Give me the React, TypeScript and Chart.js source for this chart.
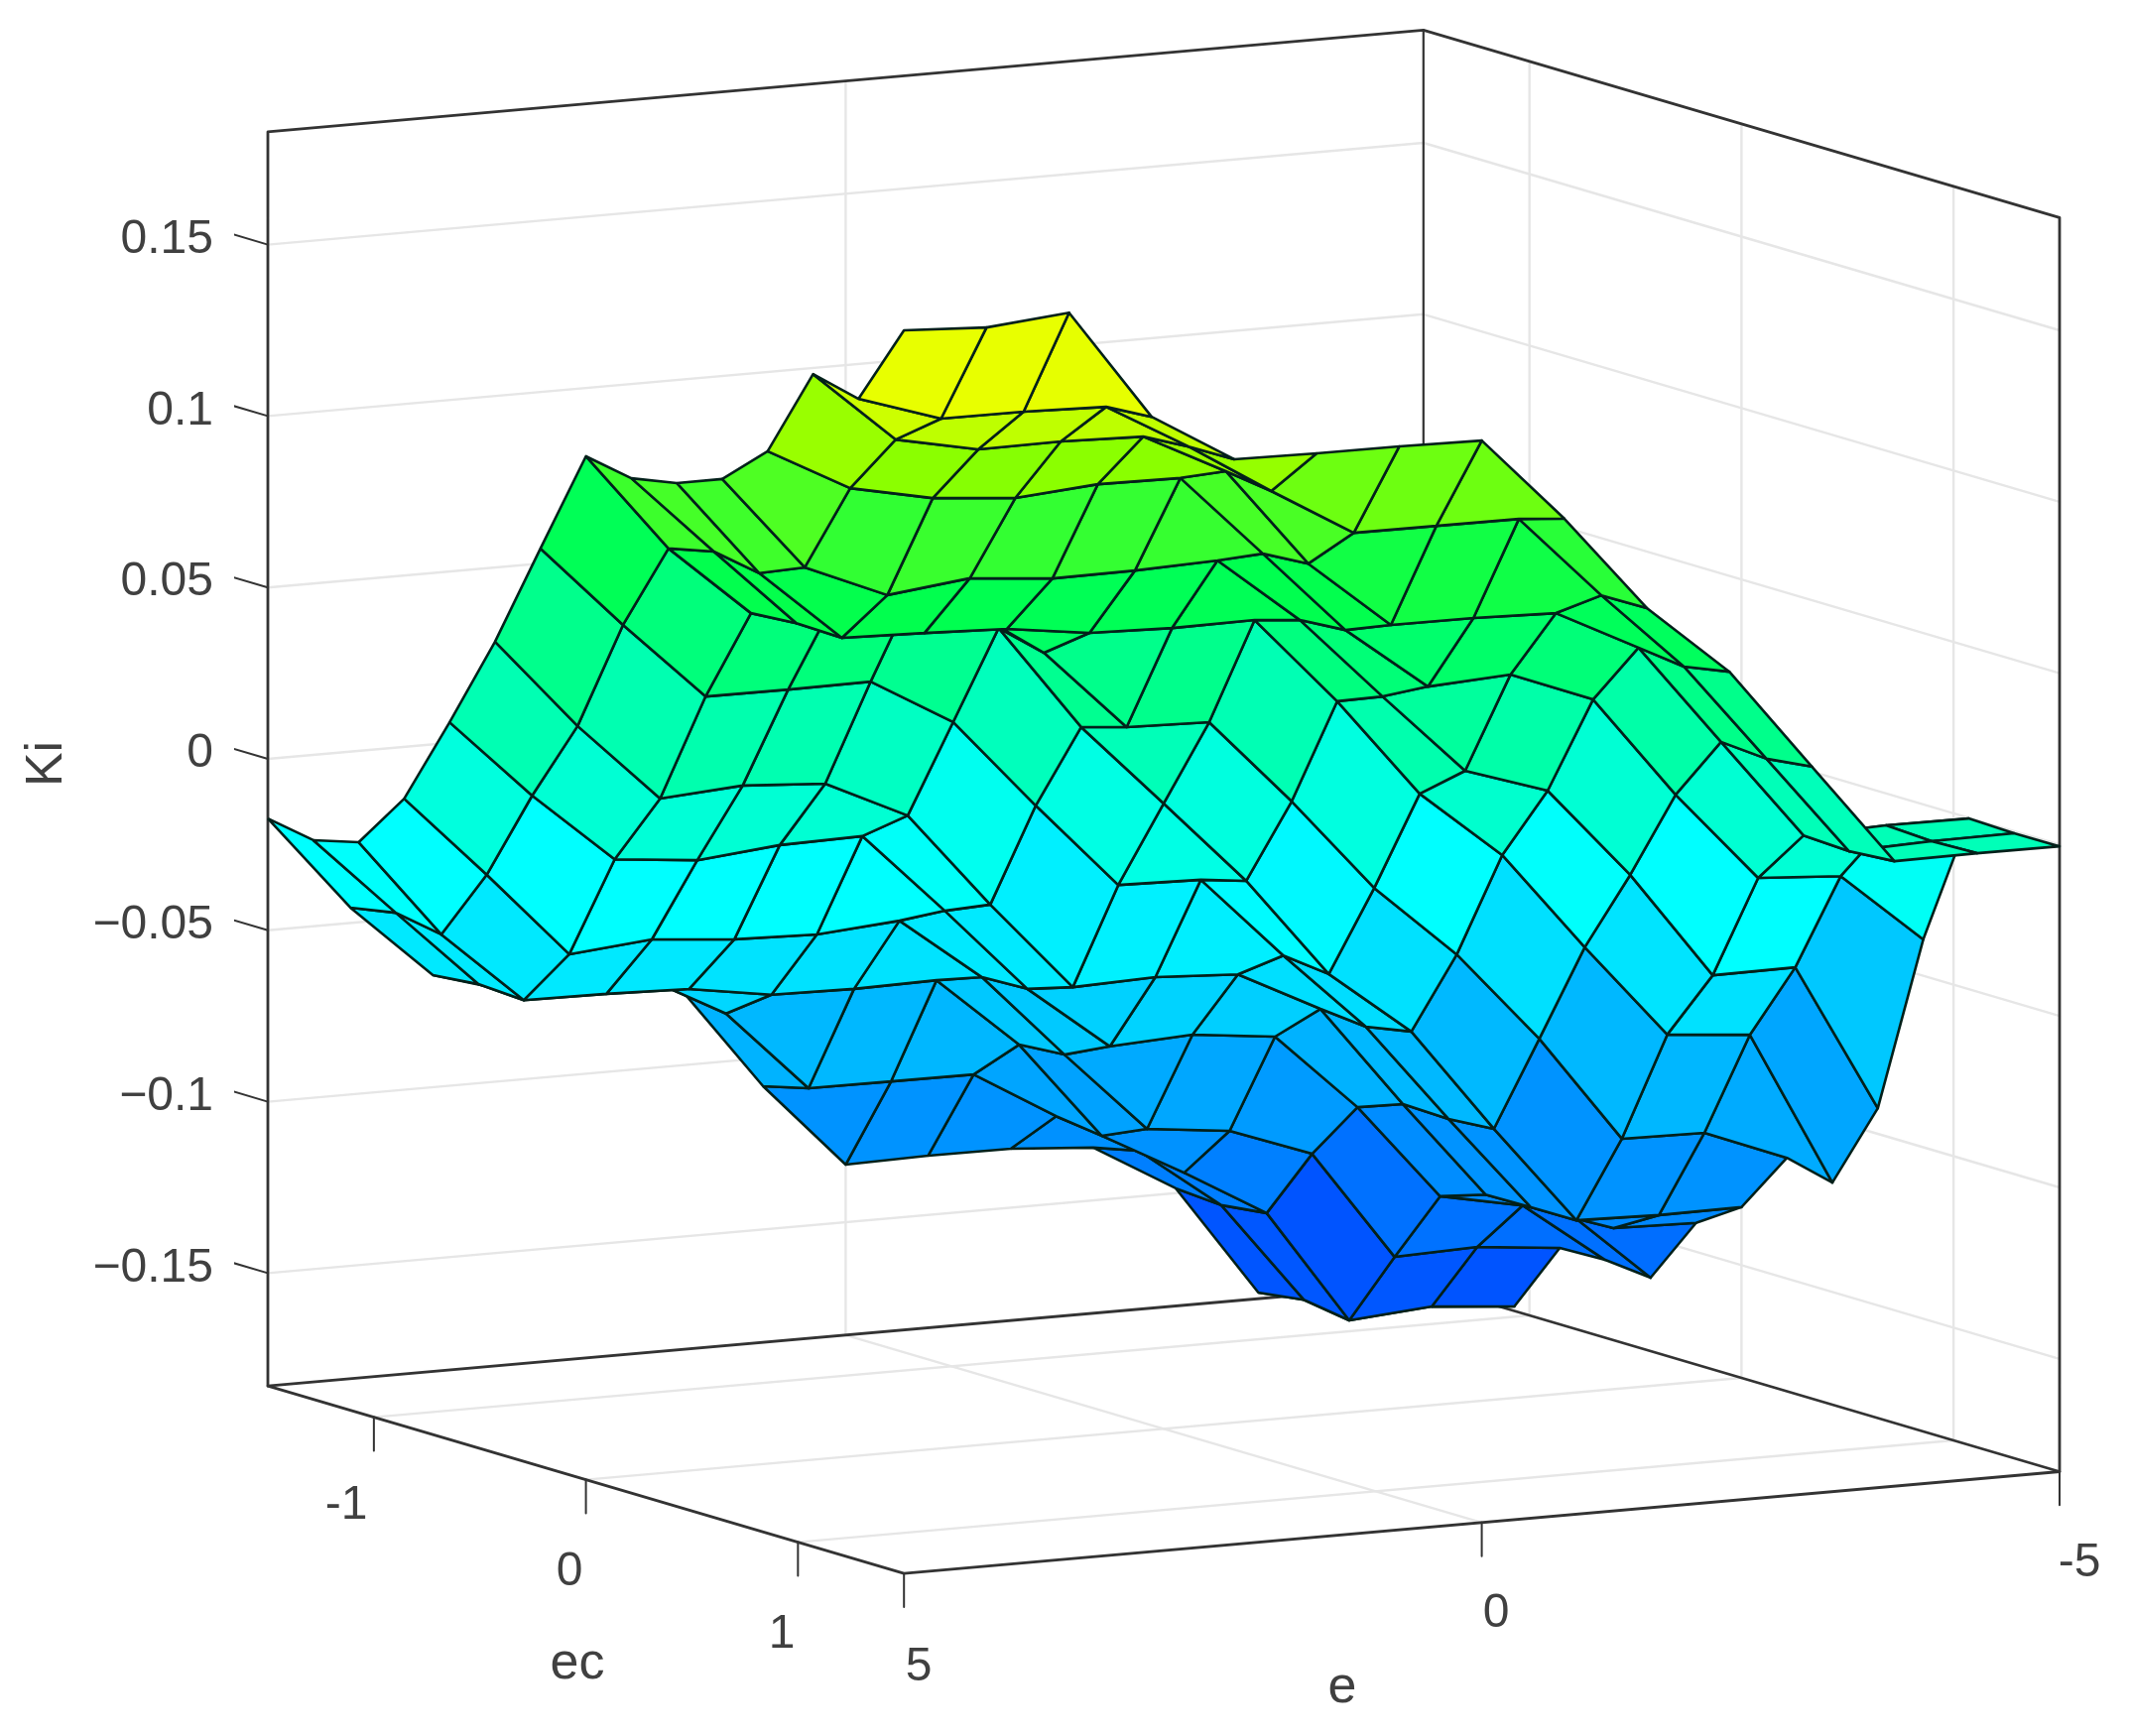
import React, { useEffect, useRef } from "react";
import { Chart, registerables } from "chart.js";

Chart.register(...registerables);

// Surface axes
const eValues = [5, 4.2857, 3.5714, 2.8571, 2.1429, 1.4286, 0.7143, 0, -0.7143, -1.4286, -2.1429, -2.8571, -3.5714, -4.2857, -5];
const ecValues = [-1.5, -1.2857, -1.0714, -0.8571, -0.6429, -0.4286, -0.2143, 0, 0.2143, 0.4286, 0.6429, 0.8571, 1.0714, 1.2857, 1.5];

// Ki at each e (row) and ec (column)
const kiE00 = [-0.0174, -0.0198, -0.0165, 0.0001, 0.0263, 0.0537, 0.0848, 0.1156, 0.1131, 0.1156, 0.1207, 0.1327, 0.1591, 0.1558, 0.1797];
const kiE01 = [-0.0455, -0.0431, -0.0455, -0.0242, 0.0028, 0.027, 0.0604, 0.0866, 0.0896, 0.0872, 0.0928, 0.1198, 0.1379, 0.1479, 0.1784];
const kiE02 = [-0.0673, -0.066, -0.0668, -0.0495, -0.0179, 0.0037, 0.0374, 0.0656, 0.0666, 0.0662, 0.0826, 0.1148, 0.1329, 0.1478, 0.1806];
const kiE03 = [-0.0744, -0.0661, -0.0671, -0.0473, -0.0203, 0.0054, 0.0373, 0.0664, 0.0726, 0.0655, 0.0854, 0.1127, 0.1331, 0.1471, 0.1481];
const kiE04 = [-0.0721, -0.0682, -0.0678, -0.0494, -0.018, 0.0038, 0.0375, 0.0695, 0.0676, 0.0646, 0.0832, 0.1146, 0.1324, 0.1334, 0.1336];
const kiE05 = [-0.0777, -0.081, -0.0716, -0.0501, -0.0175, -0.0076, 0.0236, 0.0549, 0.0516, 0.0613, 0.0834, 0.1143, 0.1202, 0.1183, 0.1332];
const kiE06 = [-0.1082, -0.1049, -0.072, -0.0482, -0.0414, -0.0357, -0.0029, 0.0239, 0.0278, 0.0606, 0.0842, 0.0901, 0.0911, 0.104, 0.1331];
const kiE07 = [-0.1332, -0.105, -0.0716, -0.0668, -0.0663, -0.0619, -0.0282, -0.0005, 0.0271, 0.0608, 0.0647, 0.0657, 0.0711, 0.1039, 0.1327];
const kiE08 = [-0.1327, -0.1051, -0.0925, -0.0915, -0.0852, -0.0611, -0.0288, -0.0252, 0.0019, 0.035, 0.0403, 0.0471, 0.071, 0.1038, 0.1078];
const kiE09 = [-0.1328, -0.1194, -0.1212, -0.1153, -0.0839, -0.0624, -0.053, -0.0545, -0.0255, 0.0059, 0.0165, 0.0485, 0.0703, 0.0794, 0.0796];
const kiE10 = [-0.1346, -0.1316, -0.1341, -0.118, -0.0866, -0.0746, -0.0759, -0.0734, -0.047, -0.0141, 0.0086, 0.0391, 0.0581, 0.0565, 0.0589];
const kiE11 = [-0.1486, -0.1496, -0.148, -0.1268, -0.1093, -0.1045, -0.1049, -0.1039, -0.0737, -0.0431, -0.0181, 0.0092, 0.0285, 0.0275, 0.0291];
const kiE12 = [-0.1811, -0.1793, -0.1814, -0.159, -0.1374, -0.133, -0.1328, -0.1327, -0.105, -0.0707, -0.0495, -0.0172, -0.0009, -0.0016, -0.0006];
const kiE13 = [-0.178, -0.177, -0.1795, -0.1582, -0.1422, -0.1403, -0.141, -0.1333, -0.1054, -0.0729, -0.0493, -0.0188, -0.0001, -0.0008, -0.0004];
const kiE14 = [-0.1758, -0.1777, -0.1816, -0.1606, -0.1602, -0.1615, -0.1416, -0.1331, -0.1148, -0.1181, -0.0925, -0.0394, -0.0002, -0.0006, -0.0005];
const kiSurface = [kiE00, kiE01, kiE02, kiE03, kiE04, kiE05, kiE06, kiE07, kiE08, kiE09, kiE10, kiE11, kiE12, kiE13, kiE14];

// Axis ticks and limits
const kiTicks = [-0.15, -0.1, -0.05, 0, 0.05, 0.1, 0.15];
const eTicks = [5, 0, -5];
const ecTicks = [-1, 0, 1];
const eLimits = [5, -5];
const ecLimits = [-1.5, 1.5];
const kiLimits = [-0.1829, 0.1829];

// Oblique view of the 3-D box, expressed on the chart's x scale (px) and y scale (Ki)
const project = (e: number, ec: number, ki: number) => ({
  x: 270 + (5 - e) * 116.48 + (ec + 1.5) * 213.73,
  y: ki + ((5 - e) * 10.26 - (ec + 1.5) * 63) / 3456,
});

const clamp = (v: number) => Math.max(0, Math.min(255, Math.round(v)));
const colour = (k: number) => {
  const r = (k - 0.065) * 2800;
  const g = 255 - (-0.05 - k) * 1300;
  const b = 255 - (k + 0.045) * 1600;
  return `rgb(${clamp(r)},${clamp(Math.min(g, 255))},${clamp(Math.min(b, 255))})`;
};

const line = (pts: number[][], color: string, width: number) => ({
  data: pts.map(([e, ec, k]) => project(e, ec, k)),
  showLine: true,
  fill: false,
  borderColor: color,
  borderWidth: width,
  pointRadius: 0,
  borderCapStyle: "round" as const,
  borderJoinStyle: "round" as const,
});

function buildDatasets() {
  const out: any[] = [];
  // Chart.js paints the first dataset last, so nearest cells come first
  for (let i = 0; i < eValues.length - 1; i++) {
    for (let j = ecValues.length - 2; j >= 0; j--) {
      const corners = [
        [i, j],
        [i + 1, j],
        [i + 1, j + 1],
        [i, j + 1],
        [i, j],
      ];
      // flat faces take the value of their lowest (e, ec) corner
      const faceValue = kiSurface[i + 1][j];
      out.push({
        data: corners.map(([a, b]) => project(eValues[a], ecValues[b], kiSurface[a][b])),
        showLine: true,
        fill: "shape",
        backgroundColor: colour(faceValue),
        borderColor: "#03201a",
        borderWidth: 2.6,
        borderJoinStyle: "round",
        pointRadius: 0,
      });
    }
  }
  const [e0, e1] = eLimits;
  const [c0, c1] = ecLimits;
  const [k0, k1] = kiLimits;
  const dark = "#333333";
  const tickLen = 0.0098;

  // box
  out.push(line([[e0, c0, k1], [e0, c0, k0], [e0, c1, k0], [e1, c1, k0], [e1, c1, k1], [e1, c0, k1], [e0, c0, k1]], dark, 2.8));
  out.push(line([[e0, c0, k0], [e1, c0, k0], [e1, c1, k0]], dark, 2.8));
  out.push(line([[e1, c0, k0], [e1, c0, k1]], dark, 2.2));

  // tick marks
  kiTicks.forEach((k) => out.push(line([[e0, c0, k], [e0, c0 - 0.16, k]], dark, 2)));
  ecTicks.forEach((c) => out.push(line([[e0, c, k0], [e0, c, k0 - tickLen]], dark, 2)));
  eTicks.forEach((e) => out.push(line([[e, c1, k0], [e, c1, k0 - tickLen]], dark, 2)));

  // grid on the walls and the floor
  const grid = "#e6e6e6";
  kiTicks.forEach((k) => out.push(line([[e0, c0, k], [e1, c0, k], [e1, c1, k]], grid, 2.4)));
  out.push(line([[0, c0, k0], [0, c0, k1]], grid, 2.4));
  out.push(line([[0, c0, k0], [0, c1, k0]], grid, 2.4));
  ecTicks.forEach((c) => {
    out.push(line([[e1, c, k0], [e1, c, k1]], grid, 2.4));
    out.push(line([[e0, c, k0], [e1, c, k0]], grid, 2.4));
  });
  return out;
}

const FONT = '"Liberation Sans", Arial, sans-serif';
const textColor = "#404040";
const ecLabels = ["-1", "0", "1"];
const eLabels = ["5", "0", "-5"];
const ecLabelAt = [[349, 1518], [574, 1585], [788, 1648]];
const eLabelAt = [[926, 1681], [1508, 1627], [2096, 1576]];

const textPlugin = {
  id: "axisText",
  afterDraw(chart: any) {
    const ctx = chart.ctx;
    ctx.save();
    ctx.fillStyle = textColor;
    ctx.font = `48px ${FONT}`;
    ctx.textAlign = "center";
    ctx.textBaseline = "middle";
    ecLabels.forEach((t, n) => ctx.fillText(t, ecLabelAt[n][0], ecLabelAt[n][1]));
    eLabels.forEach((t, n) => ctx.fillText(t, eLabelAt[n][0], eLabelAt[n][1]));
    ctx.font = `52px ${FONT}`;
    ctx.fillText("ec", 582, 1678);
    ctx.fillText("e", 1353, 1702);
    ctx.translate(48, 770);
    ctx.rotate(-Math.PI / 2);
    ctx.fillText("Ki", 0, 0);
    ctx.restore();
  },
};

export default function App() {
  const ref = useRef<HTMLCanvasElement>(null);
  useEffect(() => {
    if (!ref.current) return;
    const chart = new Chart(ref.current, {
      type: "scatter",
      data: { datasets: buildDatasets() },
      plugins: [textPlugin],
      options: {
        animation: false,
        responsive: false,
        devicePixelRatio: 1,
        layout: { padding: 0 },
        plugins: { legend: { display: false }, tooltip: { enabled: false }, title: { display: false } },
        scales: {
          x: { type: "linear", display: false, min: 236, max: 2147 },
          y: {
            type: "linear",
            position: "left",
            min: (765 - 1750) / 3456,
            max: 765 / 3456,
            grid: { display: false, drawTicks: false },
            border: { display: false },
            afterFit: (s: any) => {
              s.width = 236;
              s.paddingTop = 0;
              s.paddingBottom = 0;
            },
            afterBuildTicks: (s: any) => {
              s.ticks = kiTicks.map((value) => ({ value }));
            },
            ticks: {
              autoSkip: false,
              padding: 21,
              labelOffset: -5,
              color: textColor,
              font: { size: 48, family: FONT },
              maxRotation: 0,
              callback: (v: any) => (Number(v) < 0 ? "\u2212" + Math.abs(Number(v)) : String(Number(v))),
            },
          },
        },
      },
    } as any);
    return () => chart.destroy();
  }, []);
  return (
    <div style={{ position: "absolute", left: 0, top: 0, width: 2147, height: 1750, background: "#fff" }}>
      <canvas ref={ref} width={2147} height={1750} style={{ display: "block" }} />
    </div>
  );
}
